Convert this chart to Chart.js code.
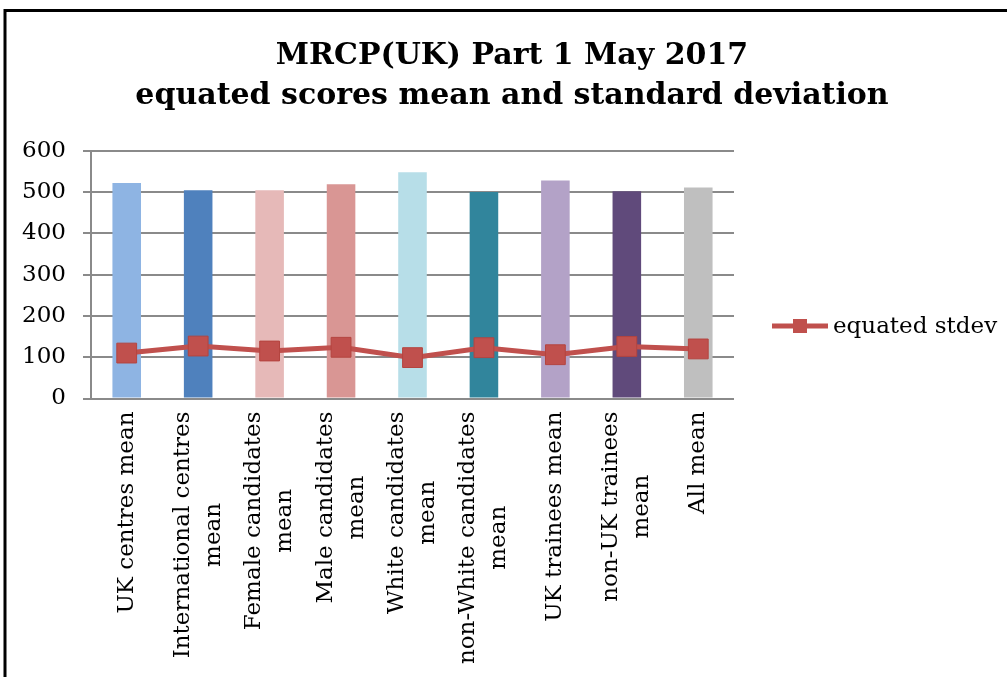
<!DOCTYPE html>
<html>
<head>
<meta charset="utf-8">
<script src="https://cdn.jsdelivr.net/npm/chart.js@4.4.0/dist/chart.umd.min.js"></script>
<style>
html,body{margin:0;padding:0;background:#fff;}
#wrap{position:relative;width:1007px;height:677px;}
</style>
</head>
<body>
<div id="wrap"><canvas id="c" width="1007" height="677"></canvas></div>
<script>
const categories = [
  ["UK centres mean"],
  ["International centres", "mean"],
  ["Female candidates", "mean"],
  ["Male candidates", "mean"],
  ["White candidates", "mean"],
  ["non-White candidates", "mean"],
  ["UK trainees mean"],
  ["non-UK trainees", "mean"],
  ["All mean"]
];
const meanValues = [522, 504, 504, 519, 548, 500, 528, 502, 511];
const stdevValues = [110, 127, 115, 124, 99, 123, 106, 126, 120];
const yTicks = [0, 100, 200, 300, 400, 500, 600];
const barColors = ["#8EB4E3", "#4F81BD", "#E6B9B8", "#D99694", "#B7DEE8", "#31859C", "#B3A2C7", "#604A7B", "#BFBFBF"];
const titleLines = ["MRCP(UK) Part 1 May 2017", "equated scores mean and standard deviation"];
const stdevLabel = "equated stdev";

const LINE_COLOR = "#C0504D";
const GRID_COLOR = "#8A8A8A";
const FONT = "'DejaVu Serif', serif";

const decorPlugin = {
  id: 'decor',
  beforeDraw(chart) {
    const ctx = chart.ctx;
    ctx.save();
    ctx.fillStyle = '#fff';
    ctx.fillRect(0, 0, chart.width, chart.height);
    ctx.strokeStyle = '#000';
    ctx.lineWidth = 3;
    ctx.beginPath();
    ctx.moveTo(5, 700);
    ctx.lineTo(5, 10.5);
    ctx.lineTo(1100, 10.5);
    ctx.stroke();
    ctx.restore();
  },
  afterDraw(chart) {
    const ctx = chart.ctx;
    const xs = chart.scales.x;
    const axisY = chart.chartArea.bottom;
    ctx.save();
    ctx.font = "23px " + FONT;
    ctx.fillStyle = '#000';
    ctx.textAlign = 'center';
    ctx.textBaseline = 'middle';
    const LH = 31;
    const pad = 13;
    categories.forEach((lines, i) => {
      const x = xs.getPixelForTick(i);
      let W = 0;
      lines.forEach(l => { W = Math.max(W, ctx.measureText(l).width); });
      ctx.save();
      ctx.translate(x, axisY);
      ctx.rotate(-Math.PI / 2);
      lines.forEach((l, k) => {
        const off = (k - (lines.length - 1) / 2) * LH;
        ctx.fillText(l, -(pad + W / 2), off);
      });
      ctx.restore();
    });
    // legend
    const ly = 326;
    ctx.strokeStyle = LINE_COLOR;
    ctx.lineWidth = 5;
    ctx.beginPath();
    ctx.moveTo(772, ly);
    ctx.lineTo(828, ly);
    ctx.stroke();
    ctx.fillStyle = LINE_COLOR;
    ctx.fillRect(793, ly - 7, 14, 14);
    ctx.fillStyle = '#000';
    ctx.textAlign = 'left';
    ctx.fillText(stdevLabel, 833, ly + 1);
    ctx.restore();
  }
};

new Chart(document.getElementById('c'), {
  data: {
    labels: categories,
    datasets: [
      {
        type: 'line',
        label: stdevLabel,
        data: stdevValues,
        borderColor: LINE_COLOR,
        backgroundColor: LINE_COLOR,
        borderWidth: 5,
        pointStyle: 'rect',
        pointRadius: 14,
        pointHoverRadius: 14,
        pointBackgroundColor: LINE_COLOR,
        pointBorderColor: '#B4443F',
        pointBorderWidth: 1,
        tension: 0,
        order: 0
      },
      {
        type: 'bar',
        label: 'mean',
        data: meanValues,
        backgroundColor: barColors,
        borderWidth: 0,
        barPercentage: 0.4,
        categoryPercentage: 1.0,
        order: 1
      }
    ]
  },
  options: {
    responsive: false,
    animation: false,
    devicePixelRatio: 1,
    layout: { padding: { left: 17, right: 0, top: 0, bottom: 0 } },
    plugins: {
      legend: { display: false },
      tooltip: { enabled: false },
      title: {
        display: true,
        text: titleLines,
        color: '#000',
        font: { family: FONT, size: 30, weight: 'bold', lineHeight: 1.34 },
        padding: { top: 36, bottom: 34.3 }
      }
    },
    scales: {
      x: {
        type: 'category',
        offset: true,
        grid: { display: false },
        border: { display: false },
        ticks: { display: false },
        afterFit(s) { s.height = 278.5; }
      },
      y: {
        type: 'linear',
        position: 'left',
        min: 0,
        max: 600,
        afterBuildTicks(s) { s.ticks = yTicks.map(v => ({ value: v })); },
        ticks: {
          color: '#000',
          font: { family: FONT, size: 23 },
          padding: 17
        },
        grid: { color: GRID_COLOR, lineWidth: 2, tickLength: 8 },
        border: { display: true, color: GRID_COLOR, width: 2 },
        afterFit(s) { s.width = 74; }
      },
      y2: {
        type: 'linear',
        position: 'right',
        display: true,
        grid: { display: false },
        border: { display: false },
        ticks: { display: false },
        afterFit(s) { s.width = 273; }
      }
    }
  },
  plugins: [decorPlugin]
});
</script>
</body>
</html>
